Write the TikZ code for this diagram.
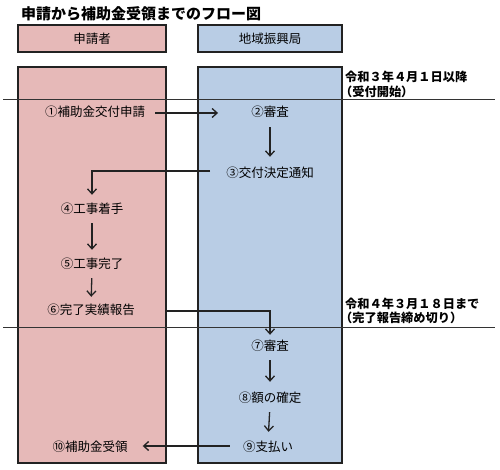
\documentclass[tikz,border=0pt]{standalone}
\usepackage{fontspec}
\setmainfont{Noto Sans CJK JP}
\usetikzlibrary{arrows.meta,calc}
\definecolor{pinkfill}{HTML}{E6B9B8}
\definecolor{bluefill}{HTML}{B9CDE5}
\definecolor{edge}{HTML}{222222}
\tikzset{
  lanebox/.style={draw=edge,line width=1.5pt},
  steptext/.style={inner sep=0pt,text height=9pt,text depth=3pt,font=\fontsize{12.5}{14}\selectfont},
  hdrtext/.style={inner sep=0pt,font=\fontsize{12.5}{14}\selectfont},
  notetext/.style={inner sep=0pt,anchor=west,font=\fontsize{12.2}{14}\selectfont\bfseries},
  arr/.style={draw=edge,line width=1.3pt,-{Straight Barb[length=5pt,width=9pt,line width=1.3pt]}},
  sepline/.style={draw=black!80,line width=0.9pt}
}
\begin{document}
\begin{tikzpicture}[x=1pt,y=-1pt]
\useasboundingbox (0,0) rectangle (500,470);
\fill[white] (0,0) rectangle (500,470);
% title
\node[anchor=west,inner sep=0pt,font=\fontsize{15}{17}\selectfont\bfseries] (title) at (21,14) {申請から補助金受領までのフロー図};
% headers
\draw[lanebox,fill=pinkfill] (18,25) rectangle (166,52);
\node[hdrtext] (h1) at (92,38.5) {申請者};
\draw[lanebox,fill=bluefill] (198,25) rectangle (342,52);
\node[hdrtext] (h2) at (270,38.5) {地域振興局};
% lanes
\draw[lanebox,fill=pinkfill] (18,67) rectangle (166,463);
\draw[lanebox,fill=bluefill] (198,67) rectangle (342,463);
% separator lines
\draw[sepline] (3,99) -- (495,99);
\draw[sepline] (3,327) -- (495,327);
% notes
\node[notetext] (t1) at (345,77) {令和３年４月１日以降};
\node[notetext] (t2) at (340,92) {（受付開始）};
\node[notetext] (t3) at (345,304) {令和４年３月１８日まで};
\node[notetext] (t4) at (340,318) {（完了報告締め切り）};
% steps
\node[steptext] (n1) at (95,114) {①補助金交付申請};
\node[steptext] (n2) at (270,114) {②審査};
\node[steptext] (n3) at (270,175) {③交付決定通知};
\node[steptext] (n4) at (92,211) {④工事着手};
\node[steptext] (n5) at (92,265) {⑤工事完了};
\node[steptext] (n6) at (91,311) {⑥完了実績報告};
\node[steptext] (n7) at (270,347) {⑦審査};
\node[steptext] (n8) at (270,399) {⑧額の確定};
\node[steptext] (n9) at (268,448) {⑨支払い};
\node[steptext] (n10) at (90,448) {⑩補助金受領};
% connectors
\draw[arr,shorten <=10pt,shorten >=33pt] ([yshift=1pt]n1.east) -- ([yshift=1pt]n2.west);
\draw[arr,shorten <=7pt,shorten >=12pt] (n2.south) -- (n3.north);
\draw[arr] ([xshift=-16pt,yshift=4pt]n3.west) -| ([yshift=10pt]n4.north);
\draw[arr,shorten <=6pt,shorten >=9pt] (n4.south) -- (n5.north);
\draw[arr,shorten <=7pt,shorten >=8pt] (n5.south) -- (n6.north);
\draw[arr] ([xshift=31pt]n6.east) -| ([yshift=6pt]n7.north);
\draw[arr,shorten <=7pt,shorten >=11pt] (n7.south) -- (n8.north);
\draw[arr,shorten <=7pt,shorten >=10pt] (n8.south) -- (n9.north);
\draw[arr,shorten <=13pt,shorten >=15pt] ([yshift=2pt]n9.west) -- ([yshift=2pt]n10.east);
\end{tikzpicture}
\end{document}
